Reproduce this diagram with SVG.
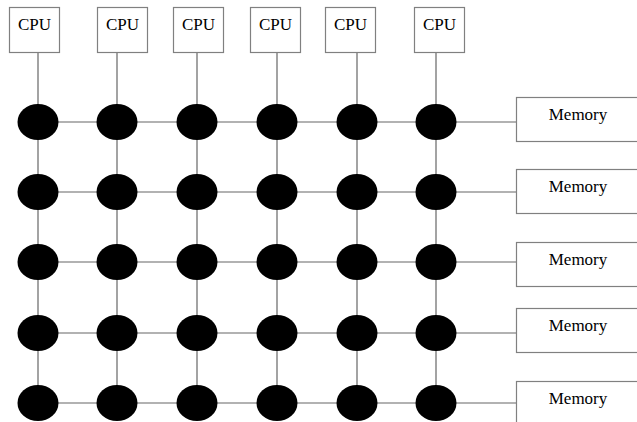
<svg xmlns="http://www.w3.org/2000/svg" width="637" height="422" viewBox="0 0 637 422">
<style>
.box{fill:#fff;stroke:#808080;stroke-width:1.2}
.lbl{font-family:"Liberation Serif","Times New Roman",serif;font-size:17px;fill:#000;text-anchor:middle}
.sw{fill:#000;stroke:none}
.c line{stroke:#666;stroke-width:1.2}
</style>
<rect width="637" height="422" fill="#fff"/>
<g class="c" id="connectors">
<line x1="38" y1="52" x2="38" y2="403"/>
<line x1="117" y1="52" x2="117" y2="403"/>
<line x1="197" y1="52" x2="197" y2="403"/>
<line x1="277" y1="52" x2="277" y2="403"/>
<line x1="357" y1="52" x2="357" y2="403"/>
<line x1="436" y1="52" x2="436" y2="403"/>
<line x1="38" y1="122" x2="516" y2="122"/>
<line x1="38" y1="192" x2="516" y2="192"/>
<line x1="38" y1="262" x2="516" y2="262"/>
<line x1="38" y1="333" x2="516" y2="333"/>
<line x1="38" y1="403" x2="516" y2="403"/>
</g>
<g id="cpu1"><rect class="box" x="9.5" y="7.5" width="50" height="45"/><text class="lbl" x="34.5" y="30">CPU</text></g>
<g id="cpu2"><rect class="box" x="97.5" y="7.5" width="50" height="45"/><text class="lbl" x="122.5" y="30">CPU</text></g>
<g id="cpu3"><rect class="box" x="173.5" y="7.5" width="50" height="45"/><text class="lbl" x="198.5" y="30">CPU</text></g>
<g id="cpu4"><rect class="box" x="250.5" y="7.5" width="50" height="45"/><text class="lbl" x="275.5" y="30">CPU</text></g>
<g id="cpu5"><rect class="box" x="325.5" y="7.5" width="50" height="45"/><text class="lbl" x="350.5" y="30">CPU</text></g>
<g id="cpu6"><rect class="box" x="414.5" y="7.5" width="50" height="45"/><text class="lbl" x="439.5" y="30">CPU</text></g>
<g id="mem1"><rect class="box" x="516.5" y="97.5" width="130" height="44"/><text class="lbl" x="578" y="120">Memory</text></g>
<g id="mem2"><rect class="box" x="516.5" y="169.5" width="130" height="44"/><text class="lbl" x="578" y="192">Memory</text></g>
<g id="mem3"><rect class="box" x="516.5" y="242.5" width="130" height="44"/><text class="lbl" x="578" y="265">Memory</text></g>
<g id="mem4"><rect class="box" x="516.5" y="308.5" width="130" height="44"/><text class="lbl" x="578" y="331">Memory</text></g>
<g id="mem5"><rect class="box" x="516.5" y="381.5" width="130" height="44"/><text class="lbl" x="578" y="404">Memory</text></g>
<g id="n11"><ellipse class="sw" cx="38" cy="122" rx="20.5" ry="18"/></g>
<g id="n12"><ellipse class="sw" cx="117" cy="122" rx="20.5" ry="18"/></g>
<g id="n13"><ellipse class="sw" cx="197" cy="122" rx="20.5" ry="18"/></g>
<g id="n14"><ellipse class="sw" cx="277" cy="122" rx="20.5" ry="18"/></g>
<g id="n15"><ellipse class="sw" cx="357" cy="122" rx="20.5" ry="18"/></g>
<g id="n16"><ellipse class="sw" cx="436" cy="122" rx="20.5" ry="18"/></g>
<g id="n21"><ellipse class="sw" cx="38" cy="192" rx="20.5" ry="18"/></g>
<g id="n22"><ellipse class="sw" cx="117" cy="192" rx="20.5" ry="18"/></g>
<g id="n23"><ellipse class="sw" cx="197" cy="192" rx="20.5" ry="18"/></g>
<g id="n24"><ellipse class="sw" cx="277" cy="192" rx="20.5" ry="18"/></g>
<g id="n25"><ellipse class="sw" cx="357" cy="192" rx="20.5" ry="18"/></g>
<g id="n26"><ellipse class="sw" cx="436" cy="192" rx="20.5" ry="18"/></g>
<g id="n31"><ellipse class="sw" cx="38" cy="262" rx="20.5" ry="18"/></g>
<g id="n32"><ellipse class="sw" cx="117" cy="262" rx="20.5" ry="18"/></g>
<g id="n33"><ellipse class="sw" cx="197" cy="262" rx="20.5" ry="18"/></g>
<g id="n34"><ellipse class="sw" cx="277" cy="262" rx="20.5" ry="18"/></g>
<g id="n35"><ellipse class="sw" cx="357" cy="262" rx="20.5" ry="18"/></g>
<g id="n36"><ellipse class="sw" cx="436" cy="262" rx="20.5" ry="18"/></g>
<g id="n41"><ellipse class="sw" cx="38" cy="333" rx="20.5" ry="18"/></g>
<g id="n42"><ellipse class="sw" cx="117" cy="333" rx="20.5" ry="18"/></g>
<g id="n43"><ellipse class="sw" cx="197" cy="333" rx="20.5" ry="18"/></g>
<g id="n44"><ellipse class="sw" cx="277" cy="333" rx="20.5" ry="18"/></g>
<g id="n45"><ellipse class="sw" cx="357" cy="333" rx="20.5" ry="18"/></g>
<g id="n46"><ellipse class="sw" cx="436" cy="333" rx="20.5" ry="18"/></g>
<g id="n51"><ellipse class="sw" cx="38" cy="403" rx="20.5" ry="18"/></g>
<g id="n52"><ellipse class="sw" cx="117" cy="403" rx="20.5" ry="18"/></g>
<g id="n53"><ellipse class="sw" cx="197" cy="403" rx="20.5" ry="18"/></g>
<g id="n54"><ellipse class="sw" cx="277" cy="403" rx="20.5" ry="18"/></g>
<g id="n55"><ellipse class="sw" cx="357" cy="403" rx="20.5" ry="18"/></g>
<g id="n56"><ellipse class="sw" cx="436" cy="403" rx="20.5" ry="18"/></g>
</svg>
